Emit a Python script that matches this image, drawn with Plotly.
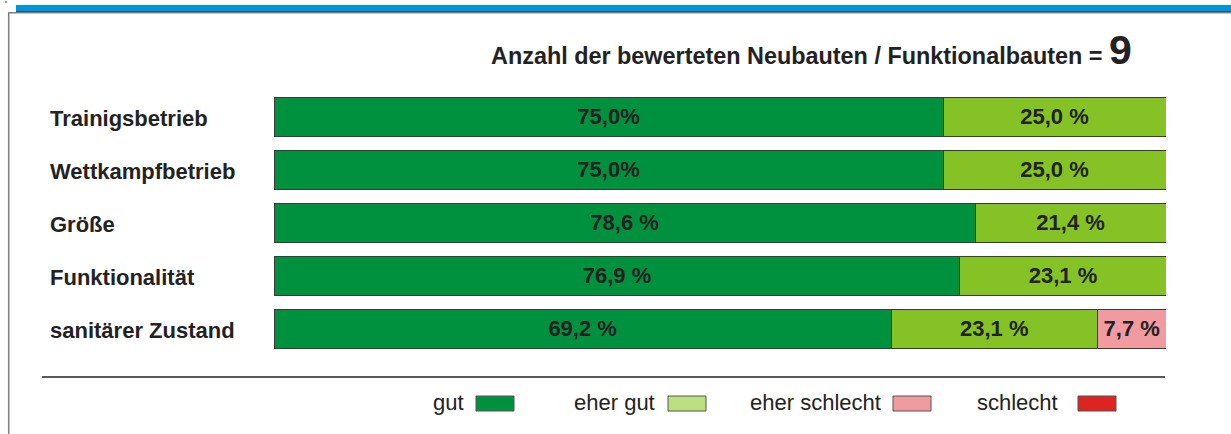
import plotly.graph_objects as go

categories = ["Trainigsbetrieb", "Wettkampfbetrieb", "Größe", "Funktionalität", "sanitärer Zustand"]
series_names = ["gut", "eher gut", "eher schlecht", "schlecht"]
gut = [75.0, 75.0, 78.6, 76.9, 69.2]
eher_gut = [25.0, 25.0, 21.4, 23.1, 23.1]
eher_schlecht = [0.0, 0.0, 0.0, 0.0, 7.7]
schlecht = [0.0, 0.0, 0.0, 0.0, 0.0]
gut_labels = ["75,0%", "75,0%", "78,6 %", "76,9 %", "69,2 %"]
eher_gut_labels = ["25,0 %", "25,0 %", "21,4 %", "23,1 %", "23,1 %"]
eher_schlecht_labels = ["", "", "", "", "7,7 %"]
schlecht_labels = ["", "", "", "", ""]
count_label = "Anzahl der bewerteten Neubauten / Funktionalbauten = "
count_value = "9"

bar_colors = ["#00913F", "#85C226", "#F19BA0", "#DC2420"]
legend_colors = ["#00913F", "#BCDF80", "#F19BA0", "#DC2420"]

W, H = 1231, 434
ML, MR, MT, MB = 274, 65, 90, 79
PW, PH = W - ML - MR, H - MT - MB


def px(x):
    return (x - ML) / PW


def py(y):
    return (H - MB - y) / PH


FONT = "Liberation Sans, Arial, sans-serif"
TXT = "#222222"
FS = 22

fig = go.Figure()
values = [gut, eher_gut, eher_schlecht, schlecht]
labels = [gut_labels, eher_gut_labels, eher_schlecht_labels, schlecht_labels]
for name, vals, labs, col in zip(series_names, values, labels, bar_colors):
    fig.add_trace(go.Bar(
        y=categories, x=vals, name=name, orientation="h",
        marker=dict(color=col, line=dict(color="#3a3a3a", width=1)),
        text=labs, texttemplate="<b>%{text}</b>", textposition="inside",
        insidetextanchor="middle", constraintext="none",
        textfont=dict(family=FONT, size=FS, color=TXT),
        hoverinfo="skip", showlegend=False,
    ))

shapes = []
annotations = []

# top decoration
shapes.append(dict(type="rect", xref="paper", yref="paper", x0=px(16), x1=px(1231), y0=py(11), y1=py(5),
                   fillcolor="#0095DA", line=dict(width=0), layer="above"))
shapes.append(dict(type="line", xref="paper", yref="paper", x0=px(16), x1=px(1231), y0=py(11.5), y1=py(11.5),
                   line=dict(color="#1b5678", width=1)))
shapes.append(dict(type="line", xref="paper", yref="paper", x0=px(8), x1=px(1231), y0=py(12.8), y1=py(12.8),
                   line=dict(color="#808080", width=1.5)))
shapes.append(dict(type="line", xref="paper", yref="paper", x0=px(8.7), x1=px(8.7), y0=py(12), y1=py(434),
                   line=dict(color="#808080", width=1.5)))
shapes.append(dict(type="rect", xref="paper", yref="paper", x0=px(5), x1=px(7), y0=py(3), y1=py(1),
                   fillcolor="#999999", line=dict(width=0)))

# separator line above legend
shapes.append(dict(type="line", xref="paper", yref="paper", x0=px(42), x1=px(1165), y0=py(377), y1=py(377),
                   line=dict(color="#222222", width=1.3)))

# title
annotations.append(dict(xref="paper", yref="paper", x=px(1134), y=py(75), xanchor="right", yanchor="bottom",
                        text="<b>" + count_label + "<span style='font-size:41px'>" + count_value + "</span></b>",
                        showarrow=False, font=dict(family=FONT, size=23.4, color=TXT)))

# category labels
for i, cat in enumerate(categories):
    annotations.append(dict(xref="paper", yref="y", x=px(48), y=cat, xanchor="left", yanchor="middle",
                            yshift=-2, text="<b>" + cat + "</b>", showarrow=False,
                            font=dict(family=FONT, size=FS, color=TXT)))

# custom legend: text then box
legend_text_right = [466, 657, 883, 1060]
legend_box_left = [476, 668, 893, 1078]
for name, col, tr, bl in zip(series_names, legend_colors, legend_text_right, legend_box_left):
    annotations.append(dict(xref="paper", yref="paper", x=px(tr), y=py(402), xanchor="right", yanchor="middle",
                            text=name, showarrow=False, font=dict(family=FONT, size=FS, color=TXT)))
    shapes.append(dict(type="rect", xref="paper", yref="paper", x0=px(bl), x1=px(bl + 38), y0=py(411), y1=py(396),
                       fillcolor=col, line=dict(color="#555555", width=1)))

fig.update_layout(
    width=W, height=H,
    margin=dict(l=ML, r=MR, t=MT, b=MB, pad=0),
    barmode="stack", bargap=0.264,
    paper_bgcolor="white", plot_bgcolor="white",
    xaxis=dict(range=[0, 100], visible=False, fixedrange=True),
    yaxis=dict(autorange="reversed", visible=False, fixedrange=True),
    uniformtext=dict(minsize=FS, mode="show"),
    shapes=shapes, annotations=annotations,
    showlegend=False,
)

fig.write_html("out.html", config={"displayModeBar": False},
               post_script="document.body.style.margin='0';document.body.style.padding='0';")
